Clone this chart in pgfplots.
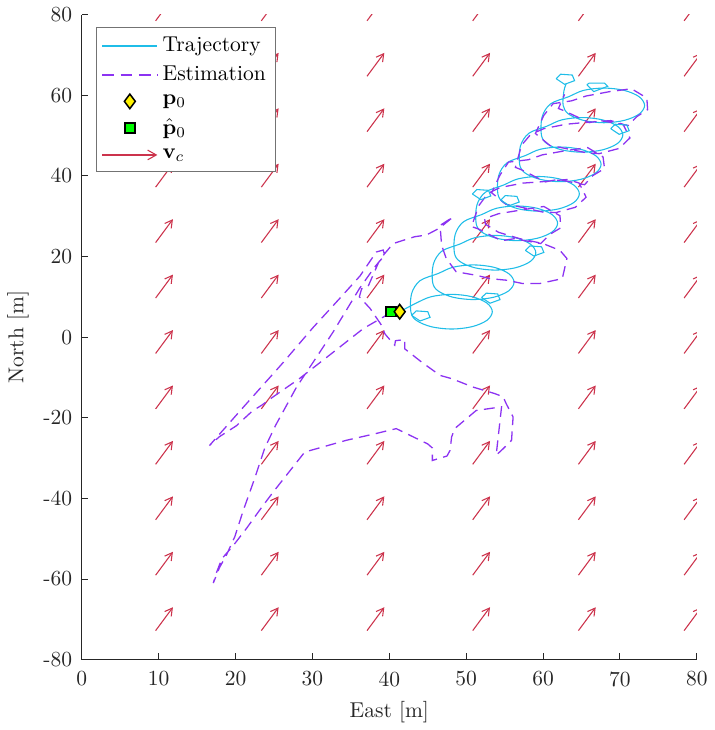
\documentclass[border=0pt]{standalone}
\usepackage{pgfplots}
\pgfplotsset{compat=1.18}
\usetikzlibrary{arrows.meta}
\definecolor{traj}{rgb}{0.12,0.74,0.91}
\definecolor{est}{rgb}{0.55,0.20,0.95}
\definecolor{arr}{rgb}{0.80,0.20,0.30}
\definecolor{axgray}{rgb}{0.15,0.15,0.15}
\pgfplotsset{
  markleg/.style={legend image code/.code={\draw[mark repeat=2,mark phase=2,##1] plot coordinates {(0cm,0cm)(0.45cm,0cm)(0.9cm,0cm)};}},
  lineleg/.style={legend image code/.code={\draw[##1] (0cm,0cm) -- (0.9cm,0cm);}},
}
\pgfplotstableread{
x y
9.6 -72.8
9.6 -59.05
9.6 -45.3
9.6 -31.55
9.6 -17.8
9.6 -4.05
9.6 9.7
9.6 23.45
9.6 37.2
9.6 50.95
9.6 64.7
9.6 78.45
23.35 -72.8
23.35 -59.05
23.35 -45.3
23.35 -31.55
23.35 -17.8
23.35 -4.05
23.35 9.7
23.35 23.45
23.35 37.2
23.35 50.95
23.35 64.7
23.35 78.45
37.1 -72.8
37.1 -59.05
37.1 -45.3
37.1 -31.55
37.1 -17.8
37.1 -4.05
37.1 9.7
37.1 23.45
37.1 37.2
37.1 50.95
37.1 64.7
37.1 78.45
50.85 -72.8
50.85 -59.05
50.85 -45.3
50.85 -31.55
50.85 -17.8
50.85 -4.05
50.85 9.7
50.85 23.45
50.85 37.2
50.85 50.95
50.85 64.7
50.85 78.45
64.6 -72.8
64.6 -59.05
64.6 -45.3
64.6 -31.55
64.6 -17.8
64.6 -4.05
64.6 9.7
64.6 23.45
64.6 37.2
64.6 50.95
64.6 64.7
64.6 78.45
78.35 -72.8
78.35 -59.05
78.35 -45.3
78.35 -31.55
78.35 -17.8
78.35 -4.05
78.35 9.7
78.35 23.45
78.35 37.2
78.35 50.95
78.35 64.7
78.35 78.45
}\currenttable
\begin{document}
\begin{tikzpicture}
\begin{axis}[
  scale only axis, width=286pt, height=300pt,
  xmin=0, xmax=80, ymin=-80, ymax=80,
  xtick={0,10,...,80}, ytick={-80,-60,...,80},
  axis lines=left, axis line style={-, draw=axgray, line width=0.45pt},
  tick align=inside, major tick length=3pt, tick style={axgray, line width=0.45pt},
  ticklabel style={text=axgray},
  xticklabel style={yshift=-2pt},
  yticklabel style={xshift=-1pt},
  /pgf/number format/assume math mode=true,
  xlabel={East [m]}, ylabel={North [m]},
  label style={text=axgray},
  legend style={at={(0.0227,0.981)}, anchor=north west, draw=black!55,
    line width=0.45pt, font=\normalsize, row sep=1.2pt, inner sep=2.5pt,
    nodes={inner xsep=2pt}},
  legend cell align=left,
  lineleg,
]
% current field (quiver)
\addplot[forget plot, arr, line width=0.5pt,
  -{Straight Barb[length=3.4pt,width=3.8pt]},
  quiver={u=2.25, v=5.8}] table[x=x, y=y] {\currenttable};

% true trajectory
\addplot[forget plot, traj, line width=0.5pt, smooth, tension=0.55] coordinates {
(41.35,6.3)
(43.51,8.45)(45.45,10.02)(48.1,10.6)(50.75,10.02)(52.69,8.45)(53.4,6.3)(52.69,4.15)(50.75,2.58)(48.1,2.0)(45.45,2.58)(43.51,4.15)(42.8,6.3)
(42.9,10.8)(44.0,14.0)
(46.34,15.76)(48.28,17.33)(50.93,17.91)(53.58,17.33)(55.52,15.76)(56.23,13.61)(55.52,11.46)(53.58,9.89)(50.93,9.31)(48.28,9.89)(46.34,11.46)(45.63,13.61)
(45.73,18.11)(46.83,21.31)
(49.17,23.07)(51.11,24.64)(53.76,25.22)(56.41,24.64)(58.35,23.07)(59.06,20.92)(58.35,18.77)(56.41,17.2)(53.76,16.62)(51.11,17.2)(49.17,18.77)(48.46,20.92)
(48.56,25.42)(49.66,28.62)
(52.0,30.38)(53.94,31.95)(56.59,32.53)(59.24,31.95)(61.18,30.38)(61.89,28.23)(61.18,26.08)(59.24,24.51)(56.59,23.93)(53.94,24.51)(52.0,26.08)(51.29,28.23)
(51.39,32.73)(52.49,35.93)
(54.83,37.69)(56.77,39.26)(59.42,39.84)(62.07,39.26)(64.01,37.69)(64.72,35.54)(64.01,33.39)(62.07,31.82)(59.42,31.24)(56.77,31.82)(54.83,33.39)(54.12,35.54)
(54.22,40.04)(55.32,43.24)
(57.66,45.0)(59.6,46.57)(62.25,47.15)(64.9,46.57)(66.84,45.0)(67.55,42.85)(66.84,40.7)(64.9,39.13)(62.25,38.55)(59.6,39.13)(57.66,40.7)(56.95,42.85)
(57.05,47.35)(58.15,50.55)
(60.49,52.31)(62.43,53.88)(65.08,54.46)(67.73,53.88)(69.67,52.31)(70.38,50.16)(69.67,48.01)(67.73,46.44)(65.08,45.86)(62.43,46.44)(60.49,48.01)(59.78,50.16)
(59.88,54.66)(60.98,57.86)
(63.32,59.62)(65.26,61.19)(67.91,61.77)(70.56,61.19)(72.5,59.62)(73.21,57.47)(72.5,55.32)(70.56,53.75)(67.91,53.17)(65.26,53.75)(63.32,55.32)(62.61,57.47)
(62.71,61.0)(63.0,62.8)
};

% estimation
\addplot[forget plot, est, line width=0.6pt, dash pattern=on 5pt off 3pt] coordinates {
(40.2,6.3)(39.6,5.4)(36.6,2.1)(32.2,-4.5)(28.3,-10.3)(24.9,-14.8)(23.4,-16.9)(22.2,-18.3)(20.1,-22.0)(17.9,-24.7)(16.6,-26.9)
(21.0,-17.4)(26.1,-6.5)(30.0,2.2)(33.5,9.5)(36.2,15.2)(38.3,21.1)(39.2,21.6)
(39.4,20.3)(38.1,17.4)(36.1,12.0)(32.7,1.3)(30.1,-6.2)(27.9,-12.5)(25.2,-21.9)(23.8,-27.5)(22.4,-35.5)(21.0,-43.0)(19.9,-49.5)(18.8,-54.1)(17.9,-57.2)(17.1,-61.0)
(17.5,-58.5)(18.2,-55.0)(19.7,-51.7)(21.4,-47.5)(23.1,-43.0)(24.9,-38.4)(26.6,-34.3)(29.0,-28.5)(30.5,-27.7)(34.4,-25.6)(38.3,-23.9)(40.9,-22.7)
(45.0,-26.5)(45.6,-27.5)(45.6,-30.6)(47.5,-29.5)(47.9,-28.1)(48.1,-24.8)(48.5,-22.7)(51.3,-18.2)(54.6,-17.3)(53.9,-29.3)(54.8,-27.7)(55.9,-25.6)(56.1,-19.8)(55.2,-16.5)(54.8,-14.8)
(53.7,-14.0)(50.9,-12.4)(48.1,-10.3)(46.6,-9.5)(44.2,-6.2)(42.0,-2.9)(42.0,-0.6)(40.8,-0.9)(40.7,-2.0)(39.6,0.4)(39.4,0.9)(39.0,2.9)(37.5,7.1)(36.1,10.0)(36.4,12.0)(37.2,12.4)(38.6,18.5)(39.3,20.5)
(40.5,23.2)(41.8,24.0)(43.3,24.9)(44.8,25.3)(46.5,27.0)(48.3,29.8)
(46.6,27.7)(46.8,22.8)(47.4,19.5)(48.7,16.2)(51.4,15.3)(53.1,14.5)(55.3,14.1)(57.3,13.3)(59.6,13.3)(62.5,14.5)(63.1,19.5)(62.2,21.5)(60.0,23.2)(57.0,24.4)(54.2,26.0)(52.5,28.0)
(52.4,29.4)(54.2,30.6)(57.4,31.6)(60.1,32.4)(62.2,30.1)(62.3,27.1)(60.9,25.5)(59.7,23.2)(56.2,24.4)(54.6,23.9)(51.5,26.9)(50.7,27.4)
(51.6,32.5)(52.8,35.6)
(54.4,37.1)(57.4,38.2)(59.6,38.5)(63.2,39.1)(64.7,38.2)(65.6,34.7)(64.2,32.2)(61.7,30.9)(60.0,31.0)(56.5,32.5)(55.2,32.9)(53.3,35.8)
(54.4,40.2)(55.5,43.4)
(58.1,44.0)(59.9,45.2)(63.1,46.3)(65.8,47.0)(67.8,44.7)(68.0,41.8)(66.5,40.1)(65.4,37.8)(61.9,39.1)(60.3,38.5)(57.2,41.5)(56.4,42.1)
(57.2,47.6)(58.4,50.3)
(60.1,51.7)(63.0,52.8)(65.3,53.2)(68.8,53.7)(70.4,52.8)(71.3,49.4)(69.9,46.8)(67.3,45.5)(65.7,45.7)(62.1,47.1)(60.9,47.5)(59.0,50.5)
(60.1,55.0)(61.3,57.9)
(63.7,58.6)(65.6,59.8)(68.7,60.9)(71.5,61.6)(73.5,59.3)(73.6,56.4)(72.2,54.7)(71.1,52.5)(67.5,53.7)(66.0,53.2)(62.8,56.1)(62.0,56.7)
(62.8,60.2)
};

% small loops on the trajectory
\addplot[forget plot, traj, line width=0.5pt] coordinates {(42.9,5.4)(43.5,6.5)(45.0,6.3)(45.3,4.9)(44.0,4.0)(42.9,5.4)};
\addplot[forget plot, traj, line width=0.5pt] coordinates {(52.0,9.8)(52.6,10.9)(54.1,10.7)(54.4,9.3)(53.1,8.4)(52.0,9.8)};
\addplot[forget plot, traj, line width=0.5pt] coordinates {(50.8,35.5)(51.4,36.6)(52.9,36.4)(53.2,35.0)(51.9,34.1)(50.8,35.5)};
\addplot[forget plot, traj, line width=0.5pt] coordinates {(54.5,34.0)(55.1,35.1)(56.6,34.9)(56.9,33.5)(55.6,32.6)(54.5,34.0)};
\addplot[forget plot, traj, line width=0.5pt] coordinates {(57.7,21.5)(58.3,22.6)(59.8,22.4)(60.1,21.0)(58.8,20.1)(57.7,21.5)};
\addplot[forget plot, traj, line width=0.5pt] coordinates {(68.8,51.7)(69.4,52.8)(70.9,52.6)(71.2,51.2)(69.9,50.3)(68.8,51.7)};
\addplot[forget plot, traj, line width=0.5pt] coordinates {(61.7,64.1)(62.3,65.2)(63.8,65.0)(64.1,63.6)(62.8,62.7)(61.7,64.1)};
\addplot[forget plot, traj, line width=0.5pt] coordinates {(65.7,62.6)(66.0,63.0)(68.0,63.0)(68.4,62.2)(66.6,60.9)(65.7,62.6)};

% initial positions
\addplot[forget plot, only marks, mark=square*, mark size=2.3pt,
  mark options={draw=black, fill=green, line width=0.7pt}]
  coordinates {(40.2,6.3)};
\addplot[forget plot, only marks, mark=diamond*, mark size=3.4pt,
  mark options={draw=black, fill=yellow, line width=0.7pt}]
  coordinates {(41.35,6.3)};

\addlegendimage{lineleg, traj, line width=0.6pt}
\addlegendentry{Trajectory}
\addlegendimage{lineleg, est, line width=0.6pt, dash pattern=on 5.5pt off 3pt}
\addlegendentry{Estimation}
\addlegendimage{markleg, only marks, mark=diamond*, mark size=3.4pt, mark options={draw=black, fill=yellow, line width=0.7pt}}
\addlegendentry{$\mathbf{p}_0$}
\addlegendimage{markleg, only marks, mark=square*, mark size=2.3pt, mark options={draw=black, fill=green, line width=0.7pt}}
\addlegendentry{$\hat{\mathbf{p}}_0$}
\addlegendimage{lineleg, arr, line width=0.5pt, -{Straight Barb[length=4pt,width=4.5pt]}}
\addlegendentry{$\mathbf{v}_c$}
\end{axis}
\end{tikzpicture}
\end{document}
